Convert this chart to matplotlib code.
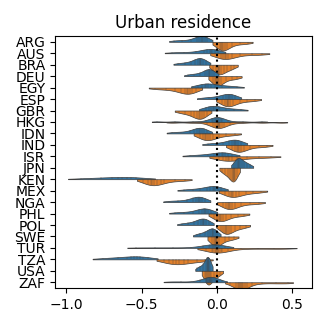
import matplotlib

matplotlib.use("Agg")
import matplotlib.pyplot as plt
import numpy as np
import pandas as pd
import seaborn as sns

countries = ["ARG", "AUS", "BRA", "DEU", "EGY", "ESP", "GBR", "HKG", "IDN", "IND", "ISR",
             "JPN", "KEN", "MEX", "NGA", "PHL", "POL", "SWE", "TUR", "TZA", "USA", "ZAF"]

# upper (blue) half of each violin, one list per country
upper_half = [
    [-0.136, -0.118, -0.106, -0.100, -0.094, -0.082, -0.064, -0.17, -0.23, -0.285],
    [-0.088, -0.064, -0.048, -0.040, -0.032, -0.016, 0.008, -0.14, -0.22, -0.30],
    [-0.146, -0.128, -0.116, -0.110, -0.104, -0.092, -0.074, -0.17, -0.21, -0.26],
    [-0.081, -0.066, -0.055, -0.050, -0.045, -0.034, -0.019, -0.11, -0.15, -0.19],
    [-0.124, -0.097, -0.079, -0.070, -0.061, -0.043, -0.016, 0.03, 0.08, 0.13],
    [0.038, 0.059, 0.073, 0.080, 0.087, 0.101, 0.122, 0.00, -0.05, -0.095],
    [-0.076, -0.053, -0.038, -0.030, -0.022, -0.007, 0.016, 0.06, 0.11, 0.16],
    [-0.072, -0.036, -0.024, -0.012, -0.006, 0.000, 0.006, 0.012, 0.024, 0.036, 0.072,
     -0.16, -0.28, -0.40, 0.17, 0.30],
    [-0.152, -0.131, -0.117, -0.110, -0.103, -0.089, -0.068, -0.18, -0.24, -0.30],
    [0.078, 0.099, 0.113, 0.120, 0.127, 0.141, 0.162, 0.04, -0.01, -0.06],
    [-0.020, 0.010, 0.030, 0.040, 0.050, 0.070, 0.100, -0.06, -0.12, -0.18],
    [0.114, 0.127, 0.136, 0.140, 0.144, 0.153, 0.166, 0.18, 0.20, 0.22],
    [-0.700, -0.660, -0.630, -0.600, -0.570, -0.540, -0.500, -0.77, -0.84, -0.90],
    [-0.068, -0.044, -0.028, -0.020, -0.012, 0.004, 0.028, -0.11, -0.16, -0.22],
    [-0.158, -0.139, -0.126, -0.120, -0.114, -0.101, -0.082, -0.20, -0.26, -0.32],
    [-0.123, -0.102, -0.087, -0.080, -0.073, -0.058, -0.037, -0.16, -0.22, -0.28],
    [-0.128, -0.109, -0.096, -0.090, -0.084, -0.071, -0.052, -0.15, -0.19, -0.235],
    [-0.059, -0.044, -0.035, -0.030, -0.025, -0.016, -0.001, -0.08, -0.11, -0.135],
    [-0.092, -0.056, -0.044, -0.032, -0.026, -0.020, -0.014, -0.008, 0.004, 0.016, 0.052,
     -0.17, -0.29, -0.41, -0.54],
    [-0.600, -0.570, -0.550, -0.530, -0.510, -0.490, -0.460, -0.66, -0.72, -0.76],
    [-0.076, -0.068, -0.063, -0.060, -0.057, -0.052, -0.044, -0.09, -0.11, -0.13],
    [-0.112, -0.076, -0.064, -0.052, -0.046, -0.040, -0.034, -0.028, -0.016, -0.004, 0.032,
     -0.15, -0.24, -0.32],
]

# lower (orange) half of each violin
lower_half = [
    [0.001, 0.018, 0.029, 0.035, 0.041, 0.052, 0.069, 0.10, 0.15, 0.205],
    [0.002, 0.026, 0.042, 0.050, 0.058, 0.074, 0.098, 0.15, 0.23, 0.30],
    [-0.024, -0.007, 0.004, 0.010, 0.016, 0.027, 0.044, 0.065, 0.09, 0.11],
    [-0.029, -0.014, -0.005, 0.000, 0.005, 0.014, 0.029, 0.06, 0.10, 0.135],
    [-0.238, -0.214, -0.198, -0.190, -0.182, -0.166, -0.142, -0.28, -0.34, -0.41],
    [0.032, 0.051, 0.064, 0.070, 0.076, 0.089, 0.108, 0.15, 0.20, 0.255],
    [-0.152, -0.131, -0.117, -0.110, -0.103, -0.089, -0.068, -0.17, -0.21, -0.25],
    [-0.068, -0.029, -0.016, -0.003, 0.004, 0.010, 0.016, 0.023, 0.036, 0.049, 0.088,
     -0.17, -0.30, 0.17, 0.30, 0.43],
    [-0.116, -0.093, -0.078, -0.070, -0.062, -0.047, -0.024, 0.01, 0.06, 0.12],
    [0.098, 0.119, 0.133, 0.140, 0.147, 0.161, 0.182, 0.22, 0.28, 0.33],
    [0.010, 0.040, 0.060, 0.070, 0.080, 0.100, 0.130, 0.20, 0.28, 0.36],
    [0.088, 0.099, 0.106, 0.110, 0.114, 0.121, 0.132, 0.07, 0.05, 0.035],
    [-0.490, -0.460, -0.440, -0.430, -0.420, -0.400, -0.370, -0.35, -0.28, -0.21],
    [0.054, 0.077, 0.092, 0.100, 0.108, 0.123, 0.146, 0.19, 0.24, 0.29],
    [0.038, 0.059, 0.073, 0.080, 0.087, 0.101, 0.122, 0.16, 0.22, 0.28],
    [-0.022, -0.001, 0.013, 0.020, 0.027, 0.041, 0.062, 0.09, 0.14, 0.18],
    [0.024, 0.042, 0.054, 0.060, 0.066, 0.078, 0.096, 0.12, 0.155, 0.19],
    [-0.036, -0.023, -0.014, -0.010, -0.006, 0.003, 0.016, 0.05, 0.08, 0.115],
    [-0.072, -0.036, -0.024, -0.012, -0.006, 0.000, 0.006, 0.012, 0.024, 0.036, 0.072,
     0.16, 0.27, 0.38, 0.47],
    [-0.350, -0.320, -0.290, -0.270, -0.250, -0.220, -0.190, -0.13, -0.08],
    [-0.082, -0.071, -0.064, -0.060, -0.056, -0.049, -0.038, -0.02, 0.00, 0.02],
    [0.088, 0.124, 0.136, 0.148, 0.154, 0.160, 0.166, 0.172, 0.184, 0.196, 0.232,
     0.30, 0.39, 0.47],
]

records = []
for country, top, bottom in zip(countries, upper_half, lower_half):
    records += [(country, "upper", v) for v in top]
    records += [(country, "lower", v) for v in bottom]
df = pd.DataFrame(records, columns=["country", "group", "value"])


def robust_factor(kde):
    # silverman-style bandwidth that ignores the long tails
    x = np.asarray(kde.dataset).ravel()
    sd = x.std(ddof=1)
    q25, q75 = np.percentile(x, [25, 75])
    return 0.9 * min(sd, (q75 - q25) / 1.34) / sd * len(x) ** -0.2


fig = plt.figure(figsize=(3.28, 3.28), dpi=100)
ax = fig.add_axes([0.168, 0.122, 0.783, 0.768])

sns.violinplot(
    data=df,
    x="value",
    y="country",
    hue="group",
    hue_order=["upper", "lower"],
    order=countries,
    orient="h",
    split=True,
    inner="stick",
    width=2.4,
    cut=0.8,
    bw_method=robust_factor,
    bw_adjust=1.5,
    linewidth=0.5,
    palette=["#1f77b4", "#ff7f0e"],
    legend=False,
    ax=ax,
)
ax.axvline(0, color="black", linestyle=":", linewidth=1.5)
ax.set_xlim(-1.075, 0.63)
ax.set_xticks([-1.0, -0.5, 0.0, 0.5])
ax.set_xlabel("")
ax.set_ylabel("")
ax.set_title("Urban residence")

fig.savefig("out.png")
